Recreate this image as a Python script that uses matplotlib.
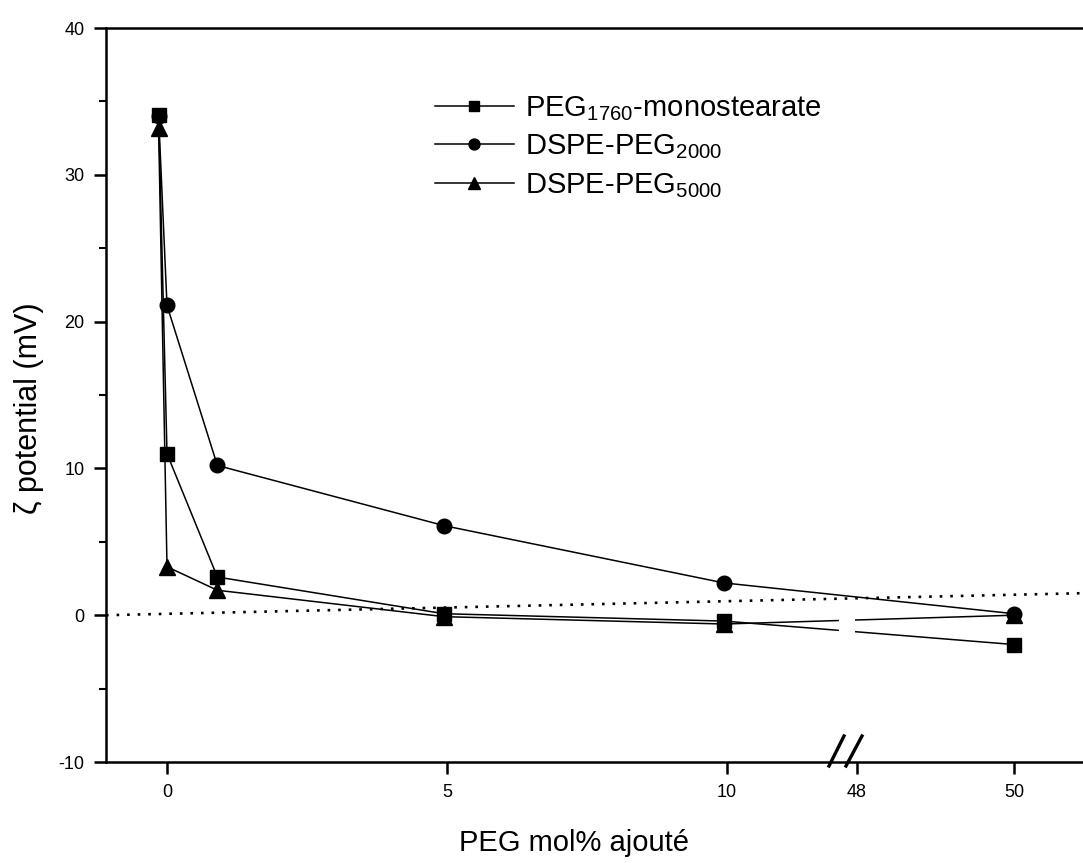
import numpy as np
import matplotlib
matplotlib.use('Agg')
import matplotlib.pyplot as plt
from matplotlib.patches import Rectangle
from matplotlib.ticker import FixedLocator, MultipleLocator

plt.rcParams['font.family'] = ['Liberation Sans', 'DejaVu Sans']
plt.rcParams['mathtext.fontset'] = 'custom'
plt.rcParams['mathtext.rm'] = 'Liberation Sans'
plt.rcParams['mathtext.default'] = 'regular'
plt.rcParams['axes.unicode_minus'] = False

# ---------------- data ----------------
peg_mol = [-0.15, 0.0, 0.9, 4.95, 9.95, 50]
peg1760_monostearate = [34.1, 11.0, 2.6, 0.1, -0.4, -2.0]
dspe_peg2000 = [34.0, 21.1, 10.2, 6.1, 2.2, 0.1]
dspe_peg5000 = [33.2, 3.3, 1.7, -0.1, -0.6, 0.0]
series_labels = [r'PEG$_{1760}$-monostearate', r'DSPE-PEG$_{2000}$', r'DSPE-PEG$_{5000}$']
x_ticks = [0, 5, 10, 48, 50]
y_ticks = [-10, 0, 10, 20, 30, 40]
ref_x = [-1.09, 50.87]
ref_y = [0.0, 1.5]

# ---------------- broken x scale ----------------
BREAK_LO, BREAK_HI = 10.0, 48.0
GAP = 2.32
HI_SLOPE = 1.41


def fwd(x):
    x = np.asarray(x, dtype=float)
    return np.where(x <= BREAK_LO, x,
                    np.where(x <= BREAK_HI,
                             BREAK_LO + (x - BREAK_LO) * GAP / (BREAK_HI - BREAK_LO),
                             BREAK_LO + GAP + (x - BREAK_HI) * HI_SLOPE))


def inv(u):
    u = np.asarray(u, dtype=float)
    return np.where(u <= BREAK_LO, u,
                    np.where(u <= BREAK_LO + GAP,
                             BREAK_LO + (u - BREAK_LO) * (BREAK_HI - BREAK_LO) / GAP,
                             BREAK_HI + (u - BREAK_LO - GAP) / HI_SLOPE))


W, H = 1083, 863
fig = plt.figure(figsize=(W / 100, H / 100), dpi=100)
ax_l, ax_r, ax_t, ax_b = 106, 1083, 28, 762
ax = fig.add_axes([ax_l / W, 1 - ax_b / H, (ax_r - ax_l) / W, (ax_b - ax_t) / H])
ax.set_xscale('function', functions=(fwd, inv))

ax.set_xlim(ref_x[0], ref_x[1])
ax.set_ylim(-10, 40)

lw = 1.1
ax.plot(peg_mol, peg1760_monostearate, color='black', lw=lw, marker='s', ms=10.5,
        label=series_labels[0], zorder=4)
ax.plot(peg_mol, dspe_peg2000, color='black', lw=lw, marker='o', ms=10.5,
        label=series_labels[1], zorder=3)
ax.plot(peg_mol, dspe_peg5000, color='black', lw=lw, marker='^', ms=11.5,
        label=series_labels[2], zorder=3.5)

ax.plot(ref_x, ref_y, color='black', lw=1.9, linestyle=(0, (1.0, 3.0)), zorder=2)

# gap in the lines at the axis break
ax.add_patch(Rectangle((42.8, -1.7), 47.5 - 42.8, 1.8, facecolor='white',
                       edgecolor='none', zorder=5))

# axes styling
for side in ['left', 'bottom', 'top']:
    ax.spines[side].set_linewidth(1.8)
ax.spines['right'].set_visible(False)

ax.xaxis.set_major_locator(FixedLocator(x_ticks))
ax.set_xticklabels([str(t) for t in x_ticks])
ax.yaxis.set_major_locator(FixedLocator(y_ticks))
ax.yaxis.set_minor_locator(MultipleLocator(5))
ax.xaxis.set_minor_locator(FixedLocator([]))
ax.tick_params(axis='both', which='major', direction='out', length=8.5, width=1.8,
               labelsize=13)
ax.tick_params(axis='x', which='major', pad=7)
ax.tick_params(axis='y', which='major', pad=7)
ax.tick_params(axis='y', which='minor', direction='out', length=5, width=1.5)
ax.tick_params(top=False, right=False, which='both')


def axfrac(px, py):
    return (px - ax_l) / (ax_r - ax_l), (ax_b - py) / (ax_b - ax_t)


for (x0, y0), (x1, y1) in [((829, 766), (844, 736)), ((846, 766), (862, 736))]:
    a0 = axfrac(x0, y0)
    a1 = axfrac(x1, y1)
    ax.plot([a0[0], a1[0]], [a0[1], a1[1]], color='black', lw=2.4,
            transform=ax.transAxes, clip_on=False, zorder=6)

fig.text(574 / W, 1 - 843 / H, 'PEG mol% ajouté', ha='center', va='center', fontsize=21)
fig.text(29 / W, 1 - 408 / H, 'ζ potential (mV)', ha='center', va='center',
         rotation=90, fontsize=22)

ax.legend(loc='upper left', bbox_to_anchor=(435 / W, 1 - 94 / H),
          bbox_transform=fig.transFigure, frameon=False, fontsize=21,
          handlelength=2.7, handletextpad=0.4, labelspacing=0.33,
          borderpad=0, borderaxespad=0, markerscale=0.75)

fig.savefig('out.png', dpi=100)
